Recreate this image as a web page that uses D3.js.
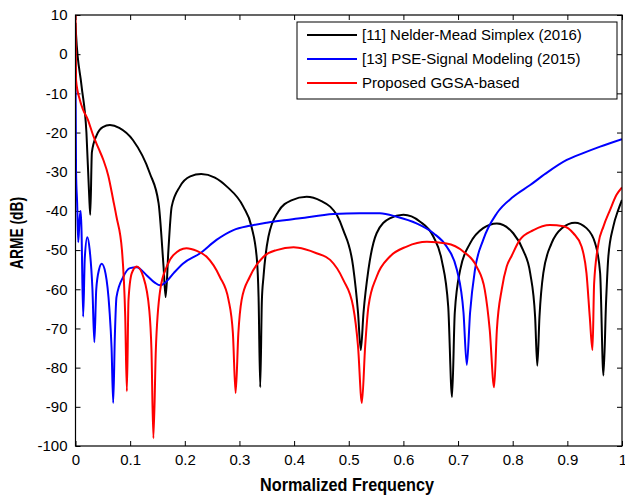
<!DOCTYPE html>
<html>
<head>
<meta charset="utf-8">
<title>ARME vs normalized frequency</title>
<script src="https://d3js.org/d3.v7.min.js"></script>
<style>
body { margin: 0; background: #fff; }
text { font-family: "Liberation Sans", Arial, sans-serif; fill: #000; }
.tick-label { font-size: 15px; }
.axis-title { font-size: 18px; font-weight: bold; }
.legend text { font-size: 15px; }
.series { fill: none; stroke-width: 2; stroke-linejoin: round; }
</style>
</head>
<body>
<div id="chart"></div>
<script>
// [f, dB] pairs
var nelderMead = [[0,8],[0.001,5],[0.011,-8],[0.020,-20],[0.025,-36],[0.027,-41],[0.030,-25],[0.039,-20.6],
  [0.050,-18.6],[0.063,-18.1],[0.080,-18.8],[0.105,-21.9],[0.136,-30.4],[0.152,-38],[0.161,-54],[0.165,-62],
  [0.170,-50],[0.176,-38.9],[0.191,-33.8],[0.210,-31.2],[0.230,-30.6],[0.255,-31.5],[0.277,-33.8],[0.307,-38.9],
  [0.322,-44],[0.332,-52.5],[0.335,-62],[0.338,-85],[0.341,-63],[0.344,-56.8],[0.353,-46.6],[0.371,-40.2],
  [0.395,-37.3],[0.423,-36.4],[0.450,-37.5],[0.466,-38.9],[0.478,-41],[0.490,-44.9],[0.508,-54.2],[0.517,-66],
  [0.522,-75.5],[0.527,-66],[0.536,-55],[0.551,-45.7],[0.575,-41.9],[0.600,-41],[0.630,-42.7],[0.655,-46.6],
  [0.670,-52.5],[0.682,-64.4],[0.689,-87.5],[0.694,-66],[0.704,-55],[0.722,-48.3],[0.746,-44.4],[0.771,-43.2],
  [0.801,-45.7],[0.819,-50],[0.832,-55.9],[0.841,-67],[0.845,-79.5],[0.849,-67],[0.856,-55.9],[0.871,-48.3],
  [0.890,-44.4],[0.914,-43],[0.935,-44.4],[0.951,-48.3],[0.960,-55.9],[0.966,-82],[0.971,-62.7],[0.975,-51.7],
  [0.984,-44],[0.993,-39.8],[1.0,-37.2]];

var pseSignal = [[0,-5],[0.001,-30],[0.003,-38],[0.005,-48],[0.0075,-42],[0.0095,-40],[0.011,-45],[0.014,-67],
  [0.017,-52],[0.0216,-46.7],[0.026,-50],[0.031,-60],[0.0345,-73.5],[0.038,-60],[0.043,-55],[0.048,-53.5],
  [0.055,-56],[0.062,-65],[0.066,-75],[0.069,-89],[0.072,-72],[0.075,-62],[0.0875,-56.8],[0.0997,-54.6],
  [0.112,-54.4],[0.130,-56.4],[0.145,-58.3],[0.155,-59],[0.165,-58.2],[0.180,-55.8],[0.197,-53.4],[0.228,-50.8],
  [0.258,-47.4],[0.289,-44.9],[0.319,-43.8],[0.350,-43],[0.411,-41.9],[0.472,-40.8],[0.520,-40.6],[0.557,-40.6],
  [0.588,-41.5],[0.624,-43.2],[0.655,-45.7],[0.679,-49.1],[0.698,-55.1],[0.710,-66],[0.716,-79.3],[0.722,-66],
  [0.731,-55],[0.746,-47.4],[0.771,-40.6],[0.801,-36.4],[0.832,-33.4],[0.860,-30.5],[0.899,-27],[0.930,-25.2],
  [0.960,-23.6],[1.0,-21.7]];

var proposedGGSA = [[0,10],[0.001,-6.6],[0.008,-11.7],[0.014,-14.2],[0.022,-16.5],[0.033,-21],[0.042,-24],
  [0.051,-27],[0.060,-31],[0.069,-37.2],[0.075,-41.5],[0.085,-50],[0.091,-67],[0.094,-86],[0.097,-62.7],
  [0.103,-55.9],[0.112,-54.2],[0.124,-56.8],[0.135,-65.3],[0.139,-75.5],[0.1425,-98],[0.147,-75.5],[0.155,-60.2],
  [0.167,-54.2],[0.179,-51.3],[0.203,-49.5],[0.222,-50.2],[0.240,-51.7],[0.264,-56.8],[0.280,-62.7],[0.288,-71.2],
  [0.293,-86.5],[0.298,-71.2],[0.304,-62.7],[0.319,-56.8],[0.344,-51.7],[0.368,-50],[0.399,-49.3],[0.420,-49.8],
  [0.441,-50.8],[0.466,-52.5],[0.490,-57.6],[0.508,-64.4],[0.517,-74.6],[0.524,-89],[0.530,-74.6],[0.536,-64.4],
  [0.551,-56.8],[0.575,-51.7],[0.606,-49.1],[0.643,-47.9],[0.679,-48.3],[0.710,-50.4],[0.734,-54.2],[0.749,-60.2],
  [0.758,-70.4],[0.766,-85],[0.771,-70.4],[0.780,-60],[0.789,-54.2],[0.798,-51.5],[0.813,-47.4],[0.838,-44.9],
  [0.868,-43.6],[0.893,-43.9],[0.911,-45.7],[0.926,-49.1],[0.935,-55.9],[0.941,-67],[0.946,-75.5],[0.949,-58.5],
  [0.957,-48.3],[0.966,-44],[0.978,-39.8],[0.990,-35.9],[1.0,-34]];

var xTicks = [0, 0.1, 0.2, 0.3, 0.4, 0.5, 0.6, 0.7, 0.8, 0.9, 1];
var yTicks = [10, 0, -10, -20, -30, -40, -50, -60, -70, -80, -90, -100];
var seriesNames = ["[11] Nelder-Mead Simplex (2016)", "[13] PSE-Signal Modeling (2015)", "Proposed GGSA-based"];
var seriesColors = ["#000000", "#0000ff", "#ff0000"];

var W = 625, H = 496;
var plotL = 75.5, plotR = 622, plotT = 15, plotB = 446;

var svg = d3.select("#chart").append("svg")
  .attr("width", W)
  .attr("height", H);

var x = d3.scaleLinear().domain([0, 1]).range([plotL, plotR]);
var y = d3.scaleLinear().domain([-100, 10]).range([plotB, plotT]);

svg.append("defs").append("clipPath").attr("id", "plot-clip")
  .append("rect")
    .attr("x", plotL).attr("y", plotT)
    .attr("width", plotR - plotL).attr("height", plotB - plotT);

// plain hyphen minus, like the original
var plain = function(d) { return String(d); };

// axes: ticks point inward, box all round
var tk = 5;
svg.append("g")
  .attr("transform", "translate(0," + plotB + ")")
  .call(d3.axisBottom(x).tickValues(xTicks).tickSizeInner(-tk).tickSizeOuter(0).tickPadding(8).tickFormat(plain))
  .call(function(g) {
    g.select(".domain").remove();
    g.selectAll("text").attr("class", "tick-label").attr("font-family", null).attr("font-size", null);
    // last label sits against the page edge
    g.selectAll("text").filter(function(d) { return d === 1; }).attr("text-anchor", "end").attr("dx", "0.3em");
  });

svg.append("g")
  .attr("transform", "translate(0," + plotT + ")")
  .call(d3.axisTop(x).tickValues(xTicks).tickSizeInner(-tk).tickSizeOuter(0).tickFormat(""))
  .call(function(g) { g.select(".domain").remove(); });

svg.append("g")
  .attr("transform", "translate(" + plotL + ",0)")
  .call(d3.axisLeft(y).tickValues(yTicks).tickSizeInner(-tk).tickSizeOuter(0).tickPadding(8).tickFormat(plain))
  .call(function(g) {
    g.select(".domain").remove();
    g.selectAll("text").attr("class", "tick-label").attr("font-family", null).attr("font-size", null);
  });

svg.append("g")
  .attr("transform", "translate(" + plotR + ",0)")
  .call(d3.axisRight(y).tickValues(yTicks).tickSizeInner(-tk).tickSizeOuter(0).tickFormat(""))
  .call(function(g) { g.select(".domain").remove(); });

// series
var line = d3.line()
  .x(function(d) { return x(d[0]); })
  .y(function(d) { return y(d[1]); })
  .curve(d3.curveMonotoneX);

var plot = svg.append("g").attr("clip-path", "url(#plot-clip)");
[nelderMead, pseSignal, proposedGGSA].forEach(function(s, i) {
  plot.append("path")
    .attr("class", "series")
    .attr("stroke", seriesColors[i])
    .attr("d", line(s));
});

svg.append("rect")
  .attr("x", plotL).attr("y", plotT)
  .attr("width", plotR - plotL).attr("height", plotB - plotT)
  .attr("fill", "none").attr("stroke", "#000").attr("stroke-width", 1.2);

// axis titles
svg.append("text")
  .attr("class", "axis-title")
  .attr("x", 347).attr("y", 491)
  .attr("text-anchor", "middle")
  .attr("textLength", 174).attr("lengthAdjust", "spacingAndGlyphs")
  .text("Normalized Frequency");

svg.append("text")
  .attr("class", "axis-title")
  .attr("transform", "translate(23,233) rotate(-90)")
  .attr("text-anchor", "middle")
  .attr("textLength", 72).attr("lengthAdjust", "spacingAndGlyphs")
  .text("ARME (dB)");

// legend
var legend = svg.append("g").attr("class", "legend");
legend.append("rect")
  .attr("x", 297).attr("y", 22)
  .attr("width", 320).attr("height", 77)
  .attr("fill", "#fff").attr("stroke", "#000").attr("stroke-width", 1);

var item = legend.selectAll("g.item")
  .data(seriesNames)
  .enter().append("g")
    .attr("class", "item")
    .attr("transform", function(d, i) { return "translate(0," + (35 + i * 24) + ")"; });

item.append("line")
  .attr("x1", 307).attr("x2", 357)
  .attr("stroke", function(d, i) { return seriesColors[i]; })
  .attr("stroke-width", 2);

item.append("text")
  .attr("x", 362).attr("dy", "0.35em")
  .text(function(d) { return d; });
</script>
</body>
</html>
